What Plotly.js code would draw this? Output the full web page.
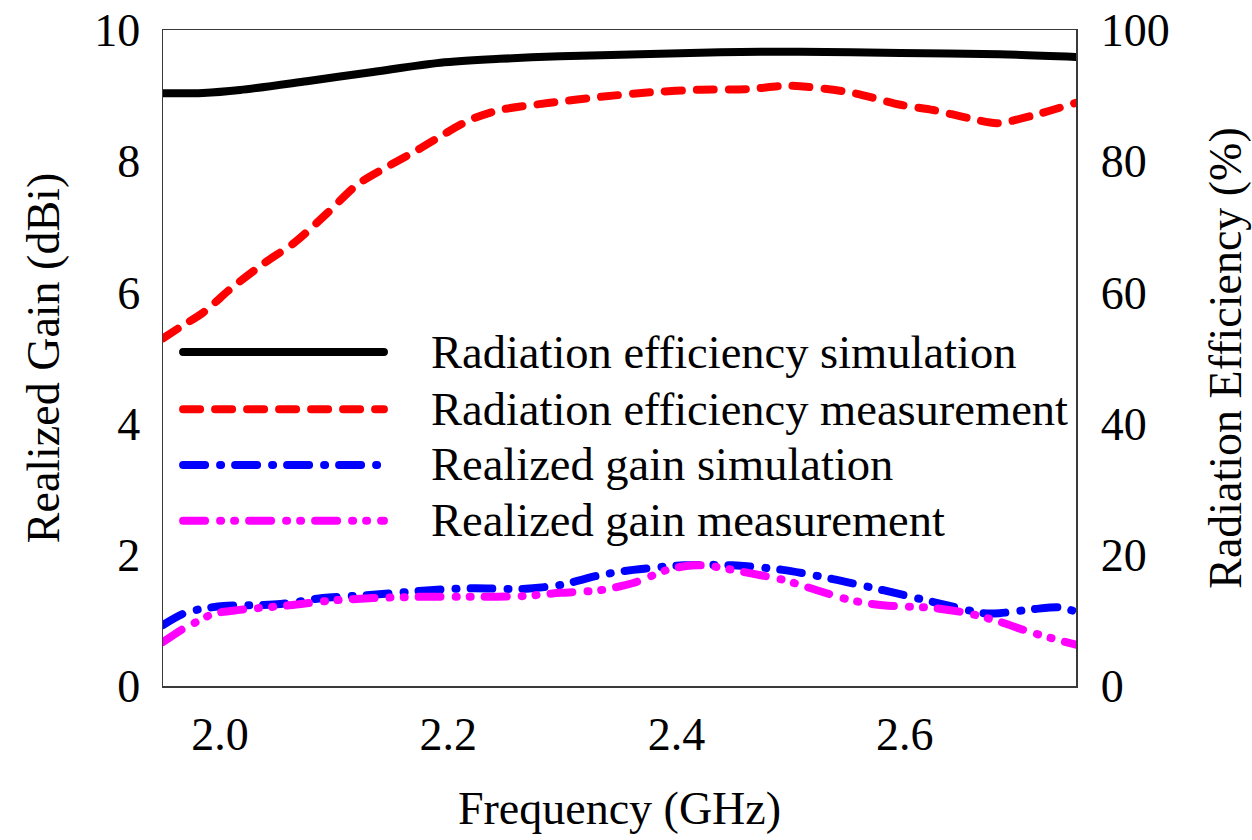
<!DOCTYPE html>
<html>
<head>
<meta charset="utf-8">
<script src="https://cdn.plot.ly/plotly-3.0.1.min.js"></script>
<style>
  html, body { margin: 0; padding: 0; background: #ffffff; }
  #chart { width: 1252px; height: 840px; }
  /* rounded dash ends and dots */
  .scatterlayer path.js-line, .shapelayer path { stroke-linecap: round !important; stroke-linejoin: round !important; }
</style>
</head>
<body>
<div id="chart"></div>
<script>
// Radiation efficiency (%), right axis
const effSimFreq = [1.95, 1.985, 2.0175, 2.076, 2.134, 2.193, 2.245, 2.298, 2.368, 2.438, 2.508, 2.596, 2.683, 2.75];
const effSimValue = [90.35, 90.4, 90.85, 92.2, 93.6, 95.0, 95.6, 96.0, 96.3, 96.6, 96.7, 96.5, 96.3, 95.9];

const effMeasFreq = [1.95, 1.965, 1.985, 2.011, 2.039, 2.066, 2.094, 2.120, 2.146, 2.173, 2.195, 2.219, 2.245,
                     2.289, 2.333, 2.377, 2.421, 2.464, 2.499, 2.552, 2.596, 2.625, 2.655, 2.681, 2.713, 2.75];
const effMeasValue = [53.0, 54.7, 56.9, 60.8, 64.5, 67.7, 72.1, 76.4, 79.1, 81.7, 84.0, 86.3, 87.8,
                      88.9, 89.8, 90.5, 90.9, 91.0, 91.5, 90.5, 88.6, 87.8, 86.6, 85.8, 87.0, 88.9];

// Realized gain (dBi), left axis
const gainSimFreq = [1.95, 1.9675, 1.982, 2.003, 2.026, 2.053, 2.090, 2.134, 2.184, 2.222, 2.265, 2.298, 2.333,
                     2.362, 2.406, 2.449, 2.493, 2.537, 2.581, 2.625, 2.669, 2.683, 2.712, 2.736, 2.75];
const gainSimValue = [0.93, 1.10, 1.17, 1.22, 1.23, 1.25, 1.34, 1.39, 1.46, 1.49, 1.48, 1.54, 1.69,
                      1.77, 1.84, 1.84, 1.77, 1.63, 1.46, 1.28, 1.11, 1.11, 1.17, 1.20, 1.13];

const gainMeasFreq = [1.95, 1.9675, 1.981, 1.994, 2.017, 2.061, 2.096, 2.134, 2.178, 2.222, 2.265, 2.298, 2.333,
                      2.362, 2.392, 2.414, 2.429, 2.464, 2.493, 2.523, 2.552, 2.581, 2.625, 2.655, 2.683, 2.712, 2.75];
const gainMeasValue = [0.67, 0.87, 0.99, 1.10, 1.16, 1.23, 1.30, 1.34, 1.36, 1.36, 1.37, 1.42, 1.46,
                       1.57, 1.77, 1.84, 1.83, 1.72, 1.62, 1.46, 1.31, 1.23, 1.19, 1.11, 0.98, 0.81, 0.63];

const seriesNames = [
  "Radiation efficiency simulation",
  "Radiation efficiency measurement",
  "Realized gain simulation",
  "Realized gain measurement"
];
const xTicks = [2.0, 2.2, 2.4, 2.6];
const gainTicks = [0, 2, 4, 6, 8, 10];
const effTicks = [0, 20, 40, 60, 80, 100];

const FONT = "Liberation Serif, 'Times New Roman', Times, serif";
const LW = 8;
const styles = [
  { color: "#000000", dash: "solid" },
  { color: "#ff0000", dash: "17px,15px" },
  { color: "#0000ff", dash: "22px,15px,1px,14px" },
  { color: "#ff00ff", dash: "22px,15px,1px,13px,1px,14px" }
];

function curve(x, y, idx, yaxis) {
  return {
    type: "scatter", mode: "lines", x: x, y: y, name: seriesNames[idx], yaxis: yaxis,
    line: { color: styles[idx].color, width: LW, dash: styles[idx].dash, shape: "spline", smoothing: 0.8 },
    showlegend: false, hoverinfo: "x+y+name"
  };
}

const data = [
  curve(gainSimFreq, gainSimValue, 2, "y"),
  curve(gainMeasFreq, gainMeasValue, 3, "y"),
  curve(effMeasFreq, effMeasValue, 1, "y2"),
  curve(effSimFreq, effSimValue, 0, "y2")
];

// Legend drawn inside the plot area: long line samples with text beside them
const legendRowsY = [0.509, 0.422, 0.337, 0.252];
const sampleX0 = 0.022, sampleX1 = 0.242, textX = 0.291;
const shapes = [], annotations = [];
seriesNames.forEach((name, i) => {
  shapes.push({
    type: "line", xref: "paper", yref: "paper",
    x0: sampleX0, x1: sampleX1, y0: legendRowsY[i], y1: legendRowsY[i],
    line: { color: styles[i].color, width: LW, dash: styles[i].dash }
  });
  annotations.push({
    xref: "paper", yref: "paper", x: textX, y: legendRowsY[i],
    xanchor: "left", yanchor: "middle", showarrow: false, text: name,
    font: { family: FONT, size: 46.5, color: "#000000" }
  });
});

const axisLine = { showline: true, linecolor: "#3a3a3a", linewidth: 1.5 };

const layout = {
  width: 1252, height: 840,
  margin: { l: 163, r: 176, t: 30, b: 154 },
  paper_bgcolor: "#ffffff", plot_bgcolor: "#ffffff",
  font: { family: FONT, size: 46, color: "#000000" },
  showlegend: false,
  xaxis: Object.assign({
    range: [1.95, 2.75], tickvals: xTicks, tickformat: ".1f",
    showgrid: false, zeroline: false, ticks: "", mirror: true,
    ticklabelstandoff: 7,
    title: { text: "Frequency (GHz)", font: { family: FONT, size: 46 }, standoff: 33 }
  }, axisLine),
  yaxis: Object.assign({
    range: [0, 10], tickvals: gainTicks, showgrid: false, zeroline: false, ticks: "",
    ticklabelstandoff: 12,
    title: { text: "Realized Gain (dBi)", font: { family: FONT, size: 46 }, standoff: 20 }
  }, axisLine),
  yaxis2: Object.assign({
    range: [0, 100], tickvals: effTicks, overlaying: "y", side: "right",
    showgrid: false, zeroline: false, ticks: "",
    ticklabelstandoff: 14,
    title: { text: "Radiation Efficiency (%)", font: { family: FONT, size: 46 }, standoff: 40 }
  }, axisLine),
  shapes: shapes,
  annotations: annotations
};

Plotly.newPlot("chart", data, layout, { displayModeBar: false, staticPlot: true });
</script>
</body>
</html>
